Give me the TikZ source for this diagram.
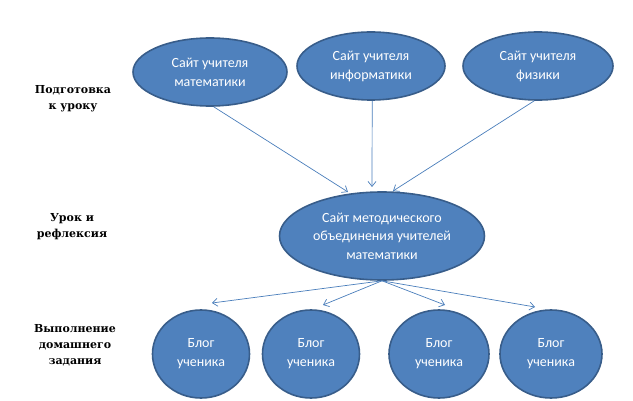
\documentclass[tikz,border=0pt]{standalone}
\usepackage{fontspec}
\setmainfont{DejaVu Serif}
\newfontfamily\tms{DejaVu Serif}
\newfontfamily\calib{Carlito}
\usetikzlibrary{shapes.geometric,arrows.meta}
\definecolor{efill}{HTML}{4F81BD}
\definecolor{edraw}{HTML}{385D8A}
\definecolor{arr}{HTML}{4A7EBB}
\begin{document}
\begin{tikzpicture}[x=1pt,y=-1pt,
  bub/.style={ellipse,fill=efill,draw=edraw,line width=1.6pt,inner sep=0pt,
    font=\calib\fontsize{14}{19}\selectfont,text=white,align=center},
  lab/.style={font=\tms\bfseries\fontsize{11}{16}\selectfont,align=center},
  con/.style={draw=arr,line width=0.7pt,-{Straight Barb[length=5pt,width=8pt]}}]
\useasboundingbox (0,0) rectangle (633,401);
\node[bub,minimum width=154pt,minimum height=68pt] (m) at (210,72) {Сайт учителя\\математики};
\node[bub,minimum width=148pt,minimum height=68pt] (i) at (371,66) {Сайт учителя\\информатики};
\node[bub,minimum width=150pt,minimum height=68pt] (f) at (538,66) {Сайт учителя\\физики};
\node[bub,minimum width=205pt,minimum height=88pt,font=\calib\fontsize{14}{18.5}\selectfont] (c) at (382,236) {Сайт методического\\объединения учителей\\математики};
\node[bub,minimum width=97pt,minimum height=88pt] (b1) at (201,354) {Блог\\ученика};
\node[bub,minimum width=97pt,minimum height=88pt] (b2) at (311,354) {Блог\\ученика};
\node[bub,minimum width=100pt,minimum height=88pt] (b3) at (439,354) {Блог\\ученика};
\node[bub,minimum width=102pt,minimum height=88pt] (b4) at (551,354) {Блог\\ученика};
\node[lab] (l1) at (73,99) {Подготовка\\к уроку};
\node[lab] (l2) at (72,227) {Урок и\\рефлексия};
\node[lab] (l3) at (75,345) {Выполнение\\домашнего\\задания};
\coordinate (c1) at (348,192);
\coordinate (c2) at (372,187);
\coordinate (c3) at (393,191);
\draw[con] (m.-84) -- (c1);
\draw[con] (i.-88) -- (c2);
\draw[con] (f.-96) -- (c3);
\coordinate (t1) at (212,303);
\coordinate (t2) at (323,305);
\coordinate (t3) at (445,305);
\coordinate (t4) at (535,307);
\draw[con] (c.south) -- (t1);
\draw[con] (c.south) -- (t2);
\draw[con] (c.south) -- (t3);
\draw[con] (c.south) -- (t4);
\end{tikzpicture}
\end{document}
